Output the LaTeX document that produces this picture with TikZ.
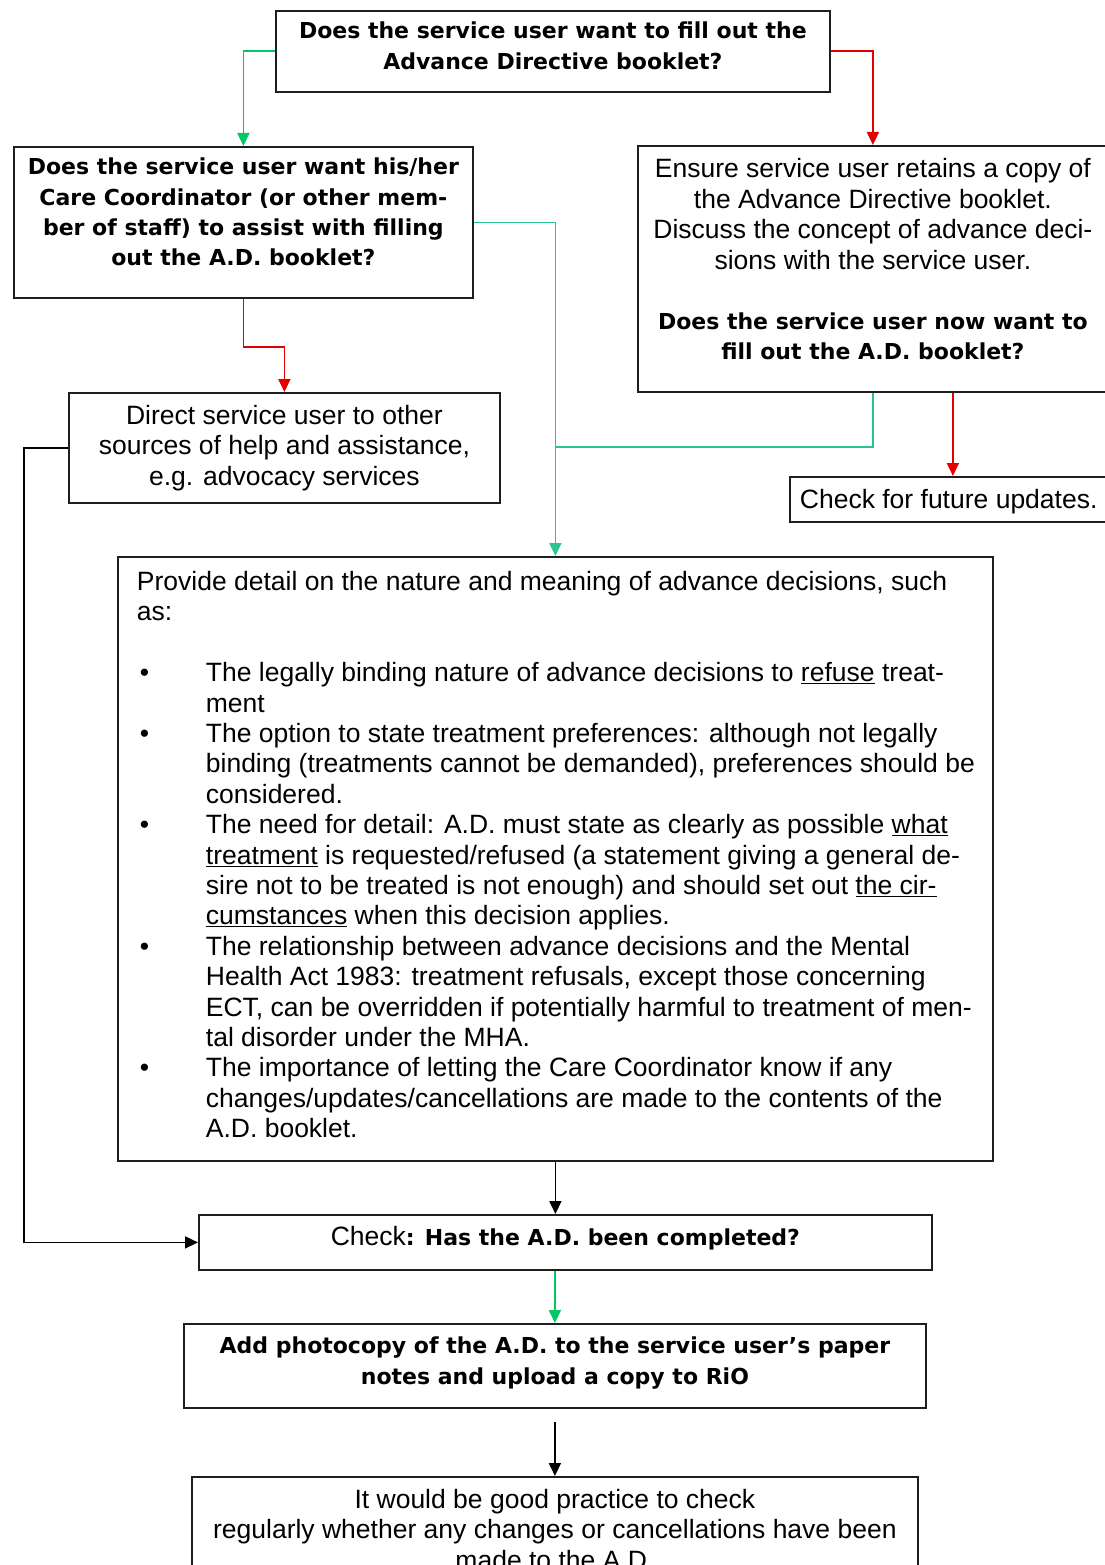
\documentclass[tikz,border=0pt]{standalone}
\usepackage{fontspec}
\setmainfont{Liberation Sans}
\newfontfamily\vfam{DejaVu Sans}
\usetikzlibrary{arrows.meta}
\definecolor{redc}{RGB}{228,0,0}
\definecolor{greenc}{RGB}{0,200,100}
\definecolor{tealc}{RGB}{40,196,150}
\definecolor{edgec}{RGB}{30,30,30}
\newcommand{\regf}{\fontsize{26.5}{30.4}\selectfont}
\newcommand{\boldf}{\vfam\bfseries\fontsize{22}{30.2}\selectfont}
\newcommand{\bul}{\llap{\makebox[66pt][l]{\textbullet}}}
\tikzset{
  box/.style={draw=edgec, line width=1.8pt, inner sep=0pt, anchor=north west, fill=white},
  conn/.style={line width=1.8pt, -{Triangle[length=13pt,width=12pt]}},
  redl/.style={conn, draw=redc},
  greenl/.style={conn, draw=greenc},
  teall/.style={conn, draw=tealc},
  tealp/.style={line width=1.8pt, draw=tealc},
  blackl/.style={conn, draw=black}
}
\begin{document}
\begin{tikzpicture}[x=1pt,y=-1pt]
\useasboundingbox (0,0) rectangle (1104,1565);

\node[box] (A) at (275,10) {\parbox[c][81pt][t]{554pt}{\centering\boldf\rule{0pt}{28pt}Does the service user want to fill out the\\Advance Directive booklet?}};

\node[box] (B) at (13,146) {\parbox[c][151pt][t]{459pt}{\centering\boldf\rule{0pt}{28pt}Does the service user want his/her\\Care Coordinator (or other mem-\\ber of staff) to assist with filling\\out the A.D. booklet?}};

\node[box] (C) at (637,145) {\parbox[c][246pt][t]{470pt}{\centering\regf\rule{0pt}{32pt}Ensure service user retains a copy of\\the Advance Directive booklet.\\Discuss the concept of advance deci-\\sions with the service user.\par\vspace{30.3pt}\boldf Does the service user now want to\\fill out the A.D. booklet?\par}};

\node[box] (E) at (68,392) {\parbox[c][110pt][t]{431pt}{\centering\regf\rule{0pt}{31.5pt}Direct service user to other\\sources of help and assistance,\\e.g. advocacy services}};

\node[box] (F) at (789,476) {\parbox[c][45pt][t]{326pt}{\regf\rule{0pt}{31.5pt}\hspace*{10pt}Check for future updates.}};

\node[box] (D) at (117,556) {\parbox[c][604pt][t]{875pt}{\raggedright\regf\leftskip=19pt
\rule{0pt}{33.5pt}\mbox{Provide detail on the nature and meaning of advance decisions, such}\\
\mbox{as:}\par
\vspace{30.56pt}
\leftskip=88pt
\mbox{\bul The legally binding nature of advance decisions to \underline{refuse} treat-}\\
\mbox{ment}\\
\mbox{\bul The option to state treatment preferences: although not legally}\\
\mbox{binding (treatments cannot be demanded), preferences should be}\\
\mbox{considered.}\\
\mbox{\bul The need for detail: A.D. must state as clearly as possible \underline{what}}\\
\mbox{\underline{treatment} is requested/refused (a statement giving a general de-}\\
\mbox{sire not to be treated is not enough) and should set out \underline{the cir-}}\\
\mbox{\underline{cumstances} when this decision applies.}\\
\mbox{\bul The relationship between advance decisions and the Mental}\\
\mbox{Health Act 1983: treatment refusals, except those concerning}\\
\mbox{ECT, can be overridden if potentially harmful to treatment of men-}\\
\mbox{tal disorder under the MHA.}\\
\mbox{\bul The importance of letting the Care Coordinator know if any}\\
\mbox{changes/updates/cancellations are made to the contents of the}\\
\mbox{A.D. booklet.}\par}};

\node[box] (G) at (198,1214) {\parbox[c][55pt][t]{733pt}{\centering\rule{0pt}{31pt}{\regf Check}{\boldf: Has the A.D. been completed?}}};

\node[box] (H) at (183,1323) {\parbox[c][84pt][t]{742pt}{\centering\boldf\rule{0pt}{30pt}Add photocopy of the A.D. to the service user’s paper\\notes and upload a copy to RiO}};

\node[box] (I) at (191,1476) {\parbox[c][130pt][t]{726pt}{\centering\regf\rule{0pt}{31.5pt}It would be good practice to check\\regularly whether any changes or cancellations have been\\made to the A.D.}};

\coordinate (j) at (554.5,447);
\coordinate (hs) at ([yshift=-13pt]H.south);

\draw[greenl] (A.west) -| (B.north);
\draw[redl] (A.east) -| (C.north);
\draw[teall] (B.east) -| (D.north);
\draw[tealp] (C.south) |- (j);
\draw[redl] (B.south) -- ++(0,48) -| (E.north);
\draw[redl] (C.south -| F.north) -- (F.north);
\draw[blackl] (E.west) -- ++(-44,0) |- (G.west);
\draw[blackl] (D.south) -- (D.south |- G.north);
\draw[greenl] (H.north |- G.south) -- (H.north);
\draw[blackl] (hs) -- (I.north);
\end{tikzpicture}
\end{document}
